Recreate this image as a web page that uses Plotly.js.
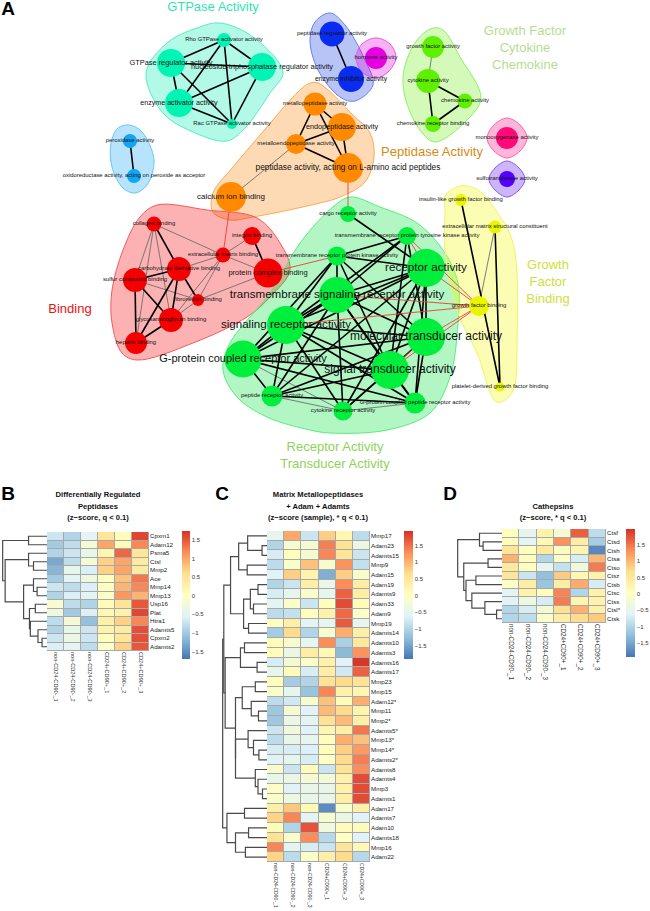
<!DOCTYPE html>
<html><head><meta charset="utf-8">
<script src="https://cdn.plot.ly/plotly-3.0.1.min.js"></script>
<style>html,body{margin:0;padding:0;background:#fff}#g{width:650px;height:911px}</style>
</head><body><div id="g"></div>
<script>
// ---------- Panel A: network ----------
const nodeIds = ['rho','gtpr','ntp','enzA','rac','perox','oxid','peptR','inhib','horm','gf','cyto','chemo','crb','mono','sulfo',
 'mp','endo','mep','pept','ca','coll','integ','ecm','prot','carb','sulfur','fibro','glyco','hep',
 'cargo','rtk','rpk','rec','tms','sig','mol','sgt','gpcr','pep','cyt','gpp','igf','ems','gfb','pdgf'];
const nodeLabels = ['Rho GTPase activator activity','GTPase regulator activity','nucleoside-triphosphatase regulator activity','enzyme activator activity','Rac GTPase activator activity','peroxidase activity','oxidoreductase activity, acting on peroxide as acceptor','peptidase regulator activity','enzyme inhibitor activity','hormone activity','growth factor activity','cytokine activity','chemokine activity','chemokine receptor binding','monooxygenase activity','sulfotransferase activity',
 'metallopeptidase activity','endopeptidase activity','metalloendopeptidase activity','peptidase activity, acting on L-amino acid peptides','calcium ion binding','collagen binding','integrin binding','extracellular matrix binding','protein complex binding','carbohydrate derivative binding','sulfur compound binding','fibronectin binding','glycosaminoglycan binding','heparin binding',
 'cargo receptor activity','transmembrane receptor protein tyrosine kinase activity','transmembrane receptor protein kinase activity','receptor activity','transmembrane signaling receptor activity','signaling receptor activity','molecular transducer activity','signal transducer activity','G-protein coupled receptor activity','peptide receptor activity','cytokine receptor activity','G-protein coupled peptide receptor activity','insulin-like growth factor binding','extracellular matrix structural constituent','growth factor binding','platelet-derived growth factor binding'];
const nodeX = [224,171,262,179,232,130,134,332,351,376,433,428,465,433,507,507,
 315,342,296,348,231,154,252,223,268,179,135,198,171,136,
 348,407,337,426,337,286,426,390,243,272,343,415,461,495,479,500];
const nodeY = [40,63,67,103,124,141,176,34,79,58,47,81,101,124,138,179,
 104,127,144,168,197,224,236,255,273,269,280,300,320,343,
 214,236,256,268,295,325,337,370,359,396,411,403,200,227,306,387];
const nodeDiam = [14,28,28,28,10,14,14,25,26,22,22,24,15,16,22,16,
 23,28,20,30,30,15,18,15,29,24,24,12,24,22,
 16,18,19,38,36,38,38,38,37,21,19,21,12,13,20,9];
const nodeGroup = [0,0,0,0,0,1,1,2,2,3,4,4,4,4,5,6,
 7,7,7,7,7,8,8,8,8,8,8,8,8,8,
 9,9,9,9,9,9,9,9,9,9,9,9,10,10,10,10];
const labelSize = [5.9,7.4,7.4,7.1,5.9,5.9,5.9,5.9,6.8,5.9,5.9,5.9,5.9,5.9,5.9,5.9,
 5.9,7.3,5.9,8.3,8,5.9,5.9,5.9,7.5,5.9,5.9,5.9,5.9,5.9,
 5.9,5.9,5.9,11.7,11.6,11.6,12,12,11,5.9,5.9,5.9,5.9,5.9,5.9,5.9];
const groupColors = ['#00f5b5','#12a5f5','#0a2cf0','#e600e0','#5ff000','#ff0a78','#5500ff','#ff8a00','#f50000','#00ee3c','#eaf500'];
const hullFill = ['rgba(0,235,175,0.30)','rgba(18,165,245,0.30)','rgba(20,60,225,0.30)','rgba(230,0,225,0.30)','rgba(110,240,20,0.30)','rgba(255,10,130,0.30)','rgba(90,10,240,0.30)','rgba(250,140,20,0.32)','rgba(245,0,0,0.30)','rgba(0,225,60,0.30)','rgba(240,250,20,0.33)'];
const hullLine = ['#55ecc8','#62c8f5','#6a80f0','#ea55e6','#90f060','#ff5ea8','#8a55f0','#fbab50','#f55a5a','#55ee80','#eef560'];
const hullX = [
 [220,253,283,270,245,227,193,163,146,167,197],
 [129,142,154,147,135,123,112,111,118],
 [330,345,365,373,355,340,318,310,315],
 [376,390,396,388,376,362,356,362],
 [433,443,460,481,467,435,420,405,404,417],
 [507,520,527,520,507,494,487,494],
 [507,519,525,519,507,495,489,495],
 [318,353,370,374,365,340,320,253,230,213,213,233,267,293,308],
 [157,207,257,280,290,270,247,193,137,122,112,112,123,140],
 [350,380,417,443,458,458,450,430,387,330,310,267,237,223,230,270,300,333],
 [460,445,445,445,458,477,497,512,517,513,497,478]];
const hullY = [
 [23,37,72,93,128,141,132,113,73,43,28],
 [125,132,160,185,193,188,167,143,128],
 [13,25,60,85,101,97,70,40,22],
 [38,44,58,72,78,72,58,44],
 [28,30,57,98,120,142,130,97,70,40],
 [118,125,138,151,158,151,138,125],
 [161,168,179,190,197,190,179,168],
 [83,115,133,157,182,197,203,217,220,212,193,167,127,97,84],
 [205,210,218,243,270,297,317,343,360,353,323,290,250,217],
 [197,207,223,250,283,323,377,413,430,433,430,417,397,370,343,293,243,207],
 [186,196,210,250,313,353,402,393,340,243,212,190]];
const edgesThick = 'rho-gtpr rho-ntp rho-enzA rho-rac gtpr-ntp gtpr-enzA gtpr-rac ntp-enzA ntp-rac enzA-rac perox-oxid peptR-inhib cyto-chemo cyto-crb chemo-crb mp-endo mp-mep mp-pept endo-mep endo-pept mep-pept coll-carb integ-prot carb-sulfur carb-glyco carb-fibro carb-hep sulfur-glyco sulfur-hep glyco-hep cargo-rec rtk-rpk rtk-tms rtk-sig rtk-mol rtk-sgt rpk-rec rpk-tms rpk-sig rpk-mol rpk-sgt rpk-gpcr rec-tms rec-sig rec-mol rec-sgt rec-gpcr rec-pep rec-cyt rec-gpp tms-sig tms-mol tms-sgt tms-gpcr tms-pep tms-cyt tms-gpp sig-mol sig-sgt sig-gpcr sig-pep sig-cyt sig-gpp mol-gpcr mol-pep mol-cyt mol-gpp sgt-gpcr sgt-pep sgt-cyt sgt-gpp gpcr-pep gpcr-gpp pep-gpp igf-pdgf ems-pdgf'.split(' ');
const edgesThin = 'gf-cyto mep-ca coll-sulfur coll-glyco coll-hep coll-ecm integ-ecm ecm-carb ecm-prot ecm-fibro ecm-glyco sulfur-fibro prot-fibro fibro-glyco gpcr-cyt pep-cyt cyt-gpp ems-gfb'.split(' ');
const edgesRed = 'pept-cargo ca-ecm prot-rpk gfb-rtk gfb-rec gfb-tms gfb-sig gfb-mol gfb-sgt mol-sgt rtk-rec'.split(' ');
const groupTexts = ['GTPase Activity','Growth Factor<br>Cytokine<br>Chemokine','Peptidase Activity','Binding','Growth<br>Factor<br>Binding','Receptor Activity<br>Transducer Activity'];
const groupTextX = [213,525,432,70,548,335];
const groupTextY = [8,49,153,310,283,456];
const groupTextColors = ['#30e6b4','#b5dd92','#d68a14','#f01010','#cfe03a','#90d25a'];
const panelLetters = ['A','B','C','D'];
const panelLetterX = [8,8,222,450];
const panelLetterY = [10,495,495,495];
const titleLines = ['Differentially Regulated','Peptidases','(z\u2212score, q < 0.1)',
 'Matrix Metallopeptidases','+ Adam + Adamts','(z\u2212score (sample), * q < 0.1)',
 'Cathepsins','(z\u2212score, * q < 0.1)'];
const titleX = [98,98,98,318,318,318,553,553];
const titleY = [495,507,518,495,507,518,507,518];

// ---------- Panels B, C, D: heatmaps ----------
const colLabels = ['non-CD24-CD90-_1','non-CD24-CD90-_2','non-CD24-CD90-_3','CD24+CD90+_1','CD24+CD90+_2','CD24+CD90+_3'];
const rowsB = ['Cpxm1','Adam12','Psma5','Ctsl','Mmp2','Ace','Mmp14','Mmp13','Usp16','Plat','Htra1','Adamts5','Cpxm2','Adamts2'];
const valsB = [
[-0.7,-0.9,-0.5,0.5,0.1,1.6],[-1.0,-0.8,-0.2,1.0,0.1,1.2],[-0.9,-0.7,-0.4,0.2,1.4,0.5],[-1.3,-0.8,-0.2,0.7,1.0,0.4],
[-1.2,-0.4,-0.6,0.7,1.0,0.4],[-1.0,-0.5,-0.3,0,0.8,1.3],[-0.7,-0.8,-0.6,0.05,0.9,1.2],[-0.9,-0.6,-0.5,-0.05,1.1,0.9],
[-0.15,-0.8,-0.9,0.1,0.5,1.5],[-0.3,-1,-0.6,0.15,0.25,1.6],[-0.8,-0.2,-1.1,0.3,0.7,1.2],[-0.9,-0.4,-0.7,0.25,0.4,1.55],
[-0.7,-0.35,-0.7,0.05,0.5,1.55],[-0.6,-0.5,-0.8,-0.05,0.7,1.5]];
const rowsC = ['Mmp17','Adam23','Adamts15','Mmp9','Adam15','Adam19','Adamts9','Adam33','Adam9','Mmp19','Adamts14','Adamts10','Adamts3','Adamts16','Adamts17','Mmp23','Mmp15','Adam12*','Mmp11','Mmp2*','Adamts5*','Mmp13*','Mmp14*','Adamts2*','Adamts8','Adamts4','Mmp3','Adamts1','Adam17','Adamts7','Adam10','Adamts18','Mmp16','Adam22'];
const valsC = [
[-0.5,1.1,-0.8,0.8,0.2,-0.9],[-1,-0.15,-0.2,1.4,0.6,-0.4],[-0.7,0.05,-0.2,1.35,0.55,-0.8],[-0.9,-0.1,0.9,-0.15,1.25,-0.85],
[-0.6,0.8,0.25,-1.4,0.8,-0.1],[-1,-0.8,0.35,-0.4,1.3,0.4],[-0.7,-0.5,-0.1,-0.5,1.6,0.4],[-0.55,-0.1,-0.8,0.05,1.75,0.1],
[-0.9,-0.85,0.05,0.3,1.55,-0.05],[-0.05,0.35,-0.55,-0.5,1.65,-0.5],[-1.1,0.7,-1,-0.15,1.05,0.35],[0.1,-0.15,-0.5,1.3,-1.05,0.5],
[0.1,-0.4,0.4,0.15,-1.3,1.25],[-0.7,-0.2,-0.05,0.3,-0.6,1.9],[-0.45,0.1,-0.7,0.4,-0.75,1.6],[0.05,-1.1,-1.0,0.6,0.7,0.6],
[-0.1,-0.5,-1.2,1.35,0.3,0.2],[-0.9,-0.75,-0.15,0.9,0.08,1.05],[-1.15,-0.2,-0.6,0.95,0.7,0.25],[-1.15,-0.4,-0.55,0.6,0.95,0.35],
[-0.8,-0.3,-0.6,0.2,0.35,1.45],[-0.9,-0.45,-0.5,0.07,1.05,0.9],[-0.7,-0.7,-0.65,0.07,0.8,1.2],[-0.6,-0.5,-0.7,0,0.7,1.4],
[-0.15,-0.8,0.1,-0.8,0.6,1.3],[-0.45,-0.4,-0.2,-0.25,0.3,1.75],[-0.05,-0.6,-0.45,-0.45,0.3,1.75],[-0.1,-0.35,-0.45,-0.45,0.35,1.75],
[0.35,0.85,0.15,-1.7,-0.1,0.3],[0.75,1.35,-0.55,-0.15,-0.4,-0.6],[0.1,-1,1.7,-0.3,0.08,0.08],[0.6,-0.1,1.3,-0.95,0,-0.6],
[1.35,-0.55,-0.7,-0.8,0.55,0.15],[0.75,-0.9,-0.1,0.35,0.7,-0.95]];
const rowsD = ['Ctsf','Ctsd','Ctsh','Ctsa','Ctso','Ctsz','Ctsb','Ctsc','Ctss','Ctsl*','Ctsk'];
const valsD = [
[0.08,-0.5,0.3,-0.2,1.65,-0.9],[0.08,-0.55,0.15,1.3,0.4,-1.1],[0.55,0.05,0.5,0.05,0.25,-1.75],[1.05,0.1,-1,-0.05,-0.7,1.0],
[0.5,0.05,-0.5,-0.85,-0.3,1.45],[0.55,-0.8,-1.25,0.85,0.2,0.3],[-0.05,0.4,-1.2,0.4,1.1,-0.7],[-0.55,0.3,0.08,1.4,-1,0.3],
[-0.6,-0.35,-0.7,1.45,0.25,0.3],[-1,-0.7,-0.2,0.65,1.05,0.35],[-1,-0.9,-0.1,0.4,0.7,0.85]];
// Dendrograms: [merge height, child, child]; a bare number is a row index
const treeB = [.985,[.41,0,1],[.93,[.41,2,[.30,3,4]],[.52,[.30,5,[.22,6,7]],[.39,[.26,8,9],[.37,10,[.2,11,[.11,12,13]]]]]]];
const treeC = [.985,[.96,[.81,[.63,[.43,0,[.11,1,2]],[.44,3,4]],[.52,[.37,[.2,5,6],[.3,7,8]],[.41,9,10]]],
 [.93,[.59,[.5,11,12],[.22,13,14]],[.7,[.55,[.26,15,16],[.35,17,[.19,18,19]]],[.7,[.42,20,[.3,21,[.18,22,23]]],[.26,24,[.2,25,[.1,26,27]]]]]]],
 [.89,[.5,28,29],[.7,[.41,30,31],[.48,32,33]]]];
const treeD = [.985,[.5,0,[.42,1,2]],[.85,[.31,3,4],[.8,[.58,5,6],[.67,7,[.38,8,[.12,9,10]]]]]];
const heatColors = ['#4575b4','#91bfdb','#e0f3f8','#ffffbf','#fee090','#fc8d59','#d73027'];

// ---------- Build ----------
const W = 650, H = 911;
const idx = {}; nodeIds.forEach((n,i)=>idx[n]=i);
function edgeTrace(list, line){
  const x=[],y=[];
  list.forEach(e=>{const [a,b]=e.split('-');x.push(nodeX[idx[a]],nodeX[idx[b]],null);y.push(nodeY[idx[a]],nodeY[idx[b]],null);});
  return {type:'scatter',mode:'lines',x,y,line,hoverinfo:'skip',xaxis:'x',yaxis:'y',showlegend:false};
}
const traces = [];
hullX.forEach((hx,i)=>traces.push({type:'scatter',mode:'lines',x:hx.concat(hx[0]),y:hullY[i].concat(hullY[i][0]),
  fill:'toself',fillcolor:hullFill[i],line:{color:hullLine[i],width:1,shape:'spline',smoothing:1},hoverinfo:'skip',xaxis:'x',yaxis:'y',showlegend:false}));
traces.push(edgeTrace(edgesThin,{color:'#6e6e6e',width:0.9}));
traces.push(edgeTrace(edgesThick,{color:'#000',width:1.6}));
traces.push(edgeTrace(edgesRed,{color:'#f03a3a',width:0.9}));
traces.push({type:'scatter',mode:'markers',x:nodeX,y:nodeY,marker:{size:nodeDiam,opacity:1,color:nodeGroup.map(g=>groupColors[g]),line:{width:0}},hoverinfo:'skip',xaxis:'x',yaxis:'y',showlegend:false});
traces.push({type:'scatter',mode:'text',x:nodeX,y:nodeY,text:nodeLabels,textposition:'middle center',cliponaxis:false,
  textfont:{family:'Liberation Sans',size:labelSize,color:'#111'},hoverinfo:'skip',xaxis:'x',yaxis:'y',showlegend:false});
traces.push({type:'scatter',mode:'text',x:groupTextX,y:groupTextY,text:groupTexts,textposition:'middle center',cliponaxis:false,
  textfont:{family:'Liberation Sans',size:13,color:groupTextColors},hoverinfo:'skip',xaxis:'x',yaxis:'y',showlegend:false});
traces.push({type:'scatter',mode:'text',x:panelLetterX,y:panelLetterY,text:panelLetters.map(s=>'<b>'+s+'</b>'),textposition:'middle center',cliponaxis:false,
  textfont:{family:'Liberation Sans',size:19,color:'#000'},hoverinfo:'skip',xaxis:'x',yaxis:'y',showlegend:false});
traces.push({type:'scatter',mode:'text',x:titleX,y:titleY,text:titleLines.map(s=>'<b>'+s+'</b>'),textposition:'middle center',cliponaxis:false,
  textfont:{family:'Liberation Sans',size:7.6,color:'#111'},hoverinfo:'skip',xaxis:'x',yaxis:'y',showlegend:false});

const layout = {width:W,height:H,margin:{l:0,r:0,t:0,b:0,pad:0},paper_bgcolor:'#fff',plot_bgcolor:'rgba(0,0,0,0)',showlegend:false,
  font:{family:'Liberation Sans'},shapes:[],
  xaxis:{domain:[0,1],range:[0,W],visible:false,fixedrange:true},
  yaxis:{domain:[0,1],range:[H,0],visible:false,fixedrange:true}};

function tree(t,segs){
  if(typeof t==='number') return {y:t,h:0};
  const a=tree(t[1],segs), b=tree(t[2],segs), h=t[0];
  segs.x.push(a.h,h,h,b.h,null); segs.y.push(a.y,a.y,b.y,b.y,null);
  return {y:(a.y+b.y)/2,h};
}
function panel(cfg){
  const n=cfg.rows.length, k=cfg.k, d=cfg.k+3;
  const xd=[cfg.x0/W,cfg.x1/W], yd=[1-cfg.y1/H,1-cfg.y0/H];
  traces.push({type:'heatmap',z:cfg.vals,x:colLabels,y:cfg.rows,xgap:1,ygap:1,zmin:cfg.zmin,zmax:cfg.zmax,
    colorscale:heatColors.map((c,i)=>[i/(heatColors.length-1),c]),hoverinfo:'skip',xaxis:'x'+k,yaxis:'y'+k,
    colorbar:{x:cfg.cbx/W,xanchor:'left',y:1-cfg.cby0/H,yanchor:'top',len:(cfg.cby1-cfg.cby0)/H,lenmode:'fraction',thickness:cfg.cbw,thicknessmode:'pixels',
      xpad:0,ypad:0,outlinewidth:0,ticks:'',tick0:0,dtick:0.5,tickfont:{family:'Liberation Sans',size:6,color:'#333'},ticklabelposition:'outside'}});
  layout['xaxis'+k]={domain:xd,anchor:'y'+k,type:'category',tickmode:'array',tickvals:colLabels,ticktext:colLabels,tickangle:90,ticks:'',
    tickfont:{family:'Liberation Sans',size:cfg.colFont,color:'#333'},showgrid:false,zeroline:false,showline:false,side:'bottom',automargin:false,fixedrange:true,range:[-0.5,5.5]};
  layout['yaxis'+k]={domain:yd,anchor:'x'+k,type:'category',tickmode:'array',tickvals:cfg.rows,ticktext:cfg.rows,ticks:'',side:'right',
    tickfont:{family:'Liberation Sans',size:6.2,color:'#222'},showgrid:false,zeroline:false,showline:false,automargin:false,fixedrange:true,range:[n-0.5,-0.5]};
  layout.shapes.push({type:'rect',xref:'x'+k,yref:'y'+k,x0:-0.5,x1:5.5,y0:-0.5,y1:n-0.5,fillcolor:'#a8a8a8',line:{width:0.5,color:'#a8a8a8'},layer:'below'});
  const segs={x:[],y:[]}; tree(cfg.tree,segs);
  traces.push({type:'scatter',mode:'lines',x:segs.x,y:segs.y,line:{color:'#4a4a4a',width:1.2},hoverinfo:'skip',xaxis:'x'+d,yaxis:'y'+d,showlegend:false,cliponaxis:false});
  layout['xaxis'+d]={domain:[cfg.dx0/W,cfg.x0/W],anchor:'y'+d,range:[1,0],visible:false,fixedrange:true};
  layout['yaxis'+d]={domain:yd,anchor:'x'+d,range:[n-0.5,-0.5],visible:false,fixedrange:true};
}
panel({k:2,rows:rowsB,vals:valsB,tree:treeB,x0:47,x1:149,y0:532,y1:651,dx0:2,zmin:-1.7,zmax:1.74,cbx:182,cby0:531,cby1:659,cbw:8,colFont:5.6});
panel({k:3,rows:rowsC,vals:valsC,tree:treeC,x0:267,x1:370,y0:531,y1:862,dx0:222,zmin:-1.9,zmax:1.94,cbx:404,cby0:531,cby1:659,cbw:9,colFont:5});
panel({k:4,rows:rowsD,vals:valsD,tree:treeD,x0:502,x1:606,y0:529,y1:623,dx0:457,zmin:-1.92,zmax:1.98,cbx:626,cby0:529,cby1:657,cbw:9,colFont:6.3});

Plotly.newPlot('g',traces,layout,{displayModeBar:false,responsive:false});
</script></body></html>
